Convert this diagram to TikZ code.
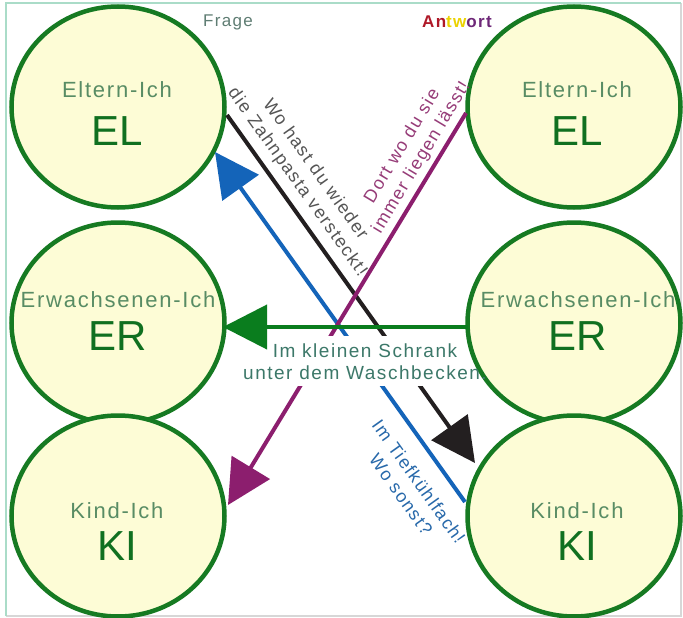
\documentclass[tikz,border=0pt]{standalone}
\usepackage{fontspec}
\setmainfont{Liberation Sans}
\newfontfamily\lsfont[LetterSpace=8]{Liberation Sans}
\usetikzlibrary{shapes.geometric,arrows.meta}
\definecolor{egoline}{RGB}{22,122,34}
\definecolor{egofill}{RGB}{253,252,214}
\definecolor{capcol}{RGB}{88,140,100}
\definecolor{bigcol}{RGB}{16,112,32}
\definecolor{blk}{RGB}{35,31,32}
\definecolor{blu}{RGB}{20,100,185}
\definecolor{pur}{RGB}{140,30,110}
\definecolor{grn}{RGB}{10,125,30}
\definecolor{txtgray}{RGB}{85,85,85}
\definecolor{txtpur}{RGB}{150,60,120}
\definecolor{txtteal}{RGB}{60,120,105}
\definecolor{txtblue}{RGB}{40,105,170}
\definecolor{fragecol}{RGB}{95,125,115}
\definecolor{anred}{RGB}{175,25,40}
\definecolor{anyel}{RGB}{235,210,0}
\definecolor{anpur}{RGB}{110,40,120}
\definecolor{framemint}{RGB}{170,220,200}
\definecolor{framegray}{RGB}{215,215,215}
\newcommand\myCap{\lsfont\fontsize{22}{24}\selectfont}
\newcommand\myBig{\fontsize{42}{44}\selectfont}
\newcommand\mySmall{\lsfont\fontsize{18}{22}\selectfont}
\begin{document}
\begin{tikzpicture}[x=1pt,y=-1pt,
  ego/.style={ellipse, draw=egoline, line width=4.5pt, fill=egofill,
    minimum width=213pt, minimum height=201pt, inner sep=0pt},
  capt/.style={anchor=base, text=capcol, font=\myCap, inner sep=0pt},
  bigt/.style={anchor=base, text=bigcol, font=\myBig, inner sep=0pt},
  arr/.style={line width=4pt, -{Triangle[length=44pt,width=44pt]}},
  rtxt/.style={align=center, font=\mySmall, inner sep=0pt}]
\useasboundingbox (0,0) rectangle (683,618);
\fill[white] (0,0) rectangle (683,618);
\draw[framegray, line width=1.5pt] (6,616) -- (681,616) -- (681,3);
\draw[framemint, line width=2pt] (6,616) -- (6,3) -- (681,3);

\node[ego] (elL) at (118,107) {};
\node[ego] (erL) at (118,323) {};
\node[ego] (kiL) at (118,516) {};
\node[ego] (elR) at (574,107) {};
\node[ego] (erR) at (574,323) {};
\node[ego] (kiR) at (574,516) {};

\coordinate (bS) at (227,115); \coordinate (bE) at (475,463);
\coordinate (uS) at (465,502); \coordinate (uE) at (215,152);
\coordinate (pS) at (466,113); \coordinate (pE) at (228,505);
\coordinate (gS) at (468,327); \coordinate (gE) at (223,327);

\draw[arr, blu] (uS) -- (uE);
\draw[arr, blk] (bS) -- (bE);
\draw[arr, pur] (pS) -- (pE);
\draw[arr, grn] (gS) -- (gE);

\node[capt] (elLc) at (117,98) {Eltern-Ich};
\node[bigt] (elLb) at (117,145) {EL};
\node[capt] (erLc) at (118,307) {Erwachsenen-Ich};
\node[bigt] (erLb) at (118,350) {ER};
\node[capt] (kiLc) at (117,518) {Kind-Ich};
\node[bigt] (kiLb) at (117,560) {KI};
\node[capt] (elRc) at (577,98) {Eltern-Ich};
\node[bigt] (elRb) at (577,145) {EL};
\node[capt] (erRc) at (578,307) {Erwachsenen-Ich};
\node[bigt] (erRb) at (578,350) {ER};
\node[capt] (kiRc) at (577,518) {Kind-Ich};
\node[bigt] (kiRb) at (577,560) {KI};

\node[text=fragecol, font=\lsfont\fontsize{17}{20}\selectfont] (frage) at (228,22) {Frage};
\node[font=\lsfont\bfseries\fontsize{17}{20}\selectfont] (antw) at (457,22)
  {\textcolor{anred}{An}\textcolor{anyel}{tw}\textcolor{anpur}{ort}};

\node[rtxt, text=txtgray, rotate=-54.5] (frq) at (306,176)
  {Wo hast du wieder\\die Zahnpasta versteckt!};
\node[rtxt, text=txtpur, rotate=58.9] (ans1) at (412,152)
  {Dort wo du sie\\immer liegen lässt!};
\node[rtxt, text=txtblue, rotate=-54.5] (ans3) at (410,488)
  {Im Tiefkühlfach!\\Wo sonst?};
\fill[white] (284,336) rectangle (430,386);
\node[align=center, text=txtteal, inner xsep=2pt, inner ysep=4pt,
  font=\lsfont\fontsize{19}{22}\selectfont] (ans2) at (365,362)
  {Im kleinen Schrank\\unter dem Waschbecken.};
\end{tikzpicture}
\end{document}
